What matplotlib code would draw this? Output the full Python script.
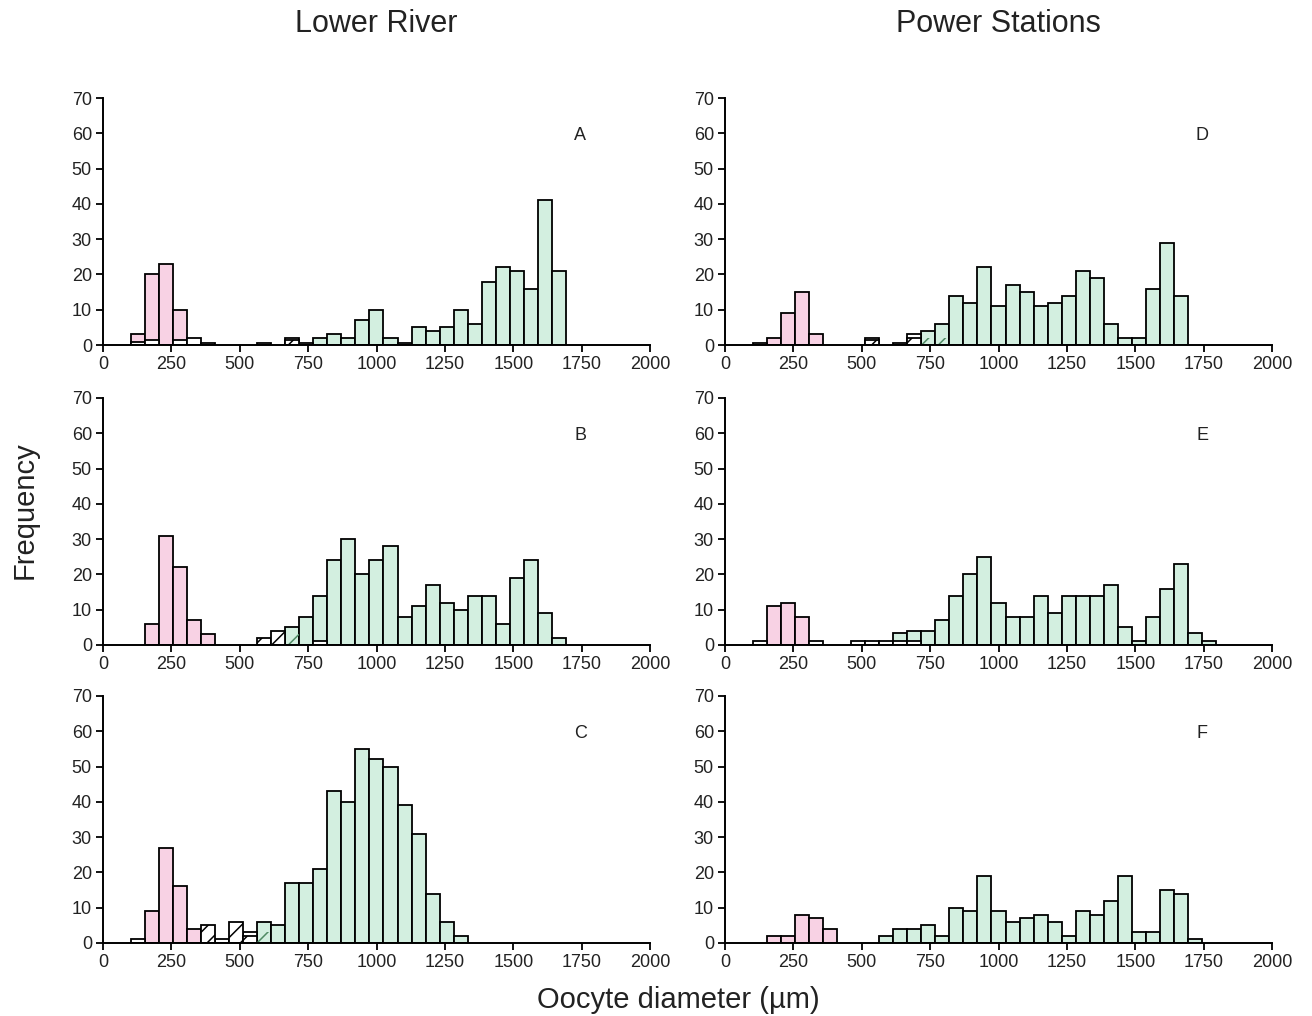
import numpy as np
import matplotlib
matplotlib.use("Agg")
import matplotlib.pyplot as plt

plt.rcParams['font.family'] = ['Liberation Sans', 'DejaVu Sans']
plt.rcParams['hatch.linewidth'] = 1.1

# bins of oocyte diameter (um); one value per bin, 34 bins
n_bins = 34
bin_start = 102
bin_width = 51.3


def series(pairs):
    # bin index -> frequency, everything else zero
    vals = [0.0] * n_bins
    for k, v in pairs.items():
        vals[k] = v
    return vals


# --- Panel A: Lower River ---
a_pink = series({0: 3, 1: 20, 2: 23, 3: 10})
a_green = series({13: 2, 14: 3, 15: 2, 16: 7, 17: 10, 18: 2, 19: 0.5, 20: 5, 21: 4, 22: 5,
                  23: 10, 24: 6, 25: 18, 26: 22, 27: 21, 28: 16, 29: 41, 30: 21})
a_white = series({0: 1, 1: 1.5, 3: 1.5, 4: 2, 5: 0.5, 9: 0.5, 11: 2, 12: 0.5})
a_hatch = series({11: 1.5})
a_hatch_green = series({})

# --- Panel B ---
b_pink = series({1: 6, 2: 31, 3: 22, 4: 7, 5: 3})
b_green = series({11: 5, 12: 8, 13: 14, 14: 24, 15: 30, 16: 20, 17: 24, 18: 28, 19: 8, 20: 11,
                  21: 17, 22: 12, 23: 10, 24: 14, 25: 14, 26: 6, 27: 19, 28: 24, 29: 9, 30: 2})
b_white = series({13: 1})
b_hatch = series({9: 2, 10: 4})
b_hatch_green = series({11: 3})

# --- Panel C ---
c_pink = series({1: 9, 2: 27, 3: 16, 4: 4})
c_green = series({9: 6, 10: 5, 11: 17, 12: 17, 13: 21, 14: 43, 15: 40, 16: 55, 17: 52, 18: 50,
                  19: 39, 20: 31, 21: 14, 22: 6, 23: 2})
c_white = series({0: 1, 6: 1, 8: 3})
c_hatch = series({5: 5, 7: 6, 8: 2})
c_hatch_green = series({9: 3})

# --- Panel D: Power Stations ---
d_pink = series({1: 2, 2: 9, 3: 15, 4: 3})
d_green = series({12: 4, 13: 6, 14: 14, 15: 12, 16: 22, 17: 11, 18: 17, 19: 15, 20: 11, 21: 12,
                  22: 14, 23: 21, 24: 19, 25: 6, 26: 2, 27: 2, 28: 16, 29: 29, 30: 14})
d_white = series({0: 0.5, 8: 2, 10: 0.5, 11: 3})
d_hatch = series({8: 1.5, 11: 2})
d_hatch_green = series({12: 2, 13: 2})

# --- Panel E ---
e_pink = series({1: 11, 2: 12, 3: 8})
e_green = series({10: 3.5, 11: 4, 12: 4, 13: 7, 14: 14, 15: 20, 16: 25, 17: 12, 18: 8, 19: 8,
                  20: 14, 21: 9, 22: 14, 23: 14, 24: 14, 25: 17, 26: 5, 27: 1, 28: 8, 29: 16,
                  30: 23, 31: 3.5, 32: 1})
e_white = series({0: 1, 4: 1, 7: 1, 8: 1, 9: 1, 10: 1, 11: 1})
e_hatch = series({})
e_hatch_green = series({})

# --- Panel F ---
f_pink = series({1: 2, 2: 2, 3: 8, 4: 7, 5: 4})
f_green = series({9: 2, 10: 4, 11: 4, 12: 5, 13: 2, 14: 10, 15: 9, 16: 19, 17: 9, 18: 6, 19: 7,
                  20: 8, 21: 6, 22: 2, 23: 9, 24: 8, 25: 12, 26: 19, 27: 3, 28: 3, 29: 15,
                  30: 14, 31: 1})
f_white = series({})
f_hatch = series({})
f_hatch_green = series({})

panels = [
    ("A", a_pink, a_green, a_white, a_hatch, a_hatch_green),
    ("B", b_pink, b_green, b_white, b_hatch, b_hatch_green),
    ("C", c_pink, c_green, c_white, c_hatch, c_hatch_green),
    ("D", d_pink, d_green, d_white, d_hatch, d_hatch_green),
    ("E", e_pink, e_green, e_white, e_hatch, e_hatch_green),
    ("F", f_pink, f_green, f_white, f_hatch, f_hatch_green),
]

PINK = '#f8d2e4'
GREEN = '#d3efe0'
HATCH_GREEN = '#4f8a64'

lefts = bin_start + bin_width * np.arange(n_bins)

fig = plt.figure(figsize=(13.12, 10.16), dpi=100)

col_left = [0.0785, 0.5526]
row_bottom = [0.6604, 0.3652, 0.0719]
ax_w, ax_h = 0.417, 0.2431


def draw(ax, vals, **kw):
    vals = np.asarray(vals)
    m = vals > 0
    if m.any():
        ax.bar(lefts[m], vals[m], width=bin_width, align='edge', **kw)


for i, (letter, pink, green, white, hatch, hatch_green) in enumerate(panels):
    col, row = divmod(i, 3)
    ax = fig.add_axes([col_left[col], row_bottom[row], ax_w, ax_h])
    draw(ax, green, color=GREEN, edgecolor='black', linewidth=1.3)
    draw(ax, pink, color=PINK, edgecolor='black', linewidth=1.3)
    draw(ax, white, color='white', edgecolor='black', linewidth=1.3)
    draw(ax, hatch, color='white', edgecolor='black', linewidth=1.3, hatch='//')
    draw(ax, hatch_green, facecolor='none', edgecolor=HATCH_GREEN, linewidth=0, hatch='//')

    ax.set_xlim(0, 2000)
    ax.set_ylim(0, 70)
    ax.set_xticks(np.arange(0, 2001, 250))
    ax.set_yticks(np.arange(0, 71, 10))
    ax.spines['top'].set_visible(False)
    ax.spines['right'].set_visible(False)
    for s in ('left', 'bottom'):
        ax.spines[s].set_linewidth(1.4)
    ax.tick_params(direction='out', length=5, width=1.3, labelsize=13, pad=3,
                   labelcolor='#222222')
    ax.text(0.872, 0.85, letter, transform=ax.transAxes, fontsize=13,
            ha='center', va='center', color='#222222')

fig.text(0.2865, 0.976, "Lower River", ha='center', va='center', fontsize=22, color='#222222')
fig.text(0.761, 0.976, "Power Stations", ha='center', va='center', fontsize=22, color='#222222')
fig.text(0.019, 0.498, "Frequency", ha='center', va='center', rotation=90, fontsize=21,
         color='#222222')
fig.text(0.517, 0.016, "Oocyte diameter (\u00b5m)", ha='center', va='center', fontsize=21,
         color='#222222')

fig.savefig("out.png", dpi=100)
